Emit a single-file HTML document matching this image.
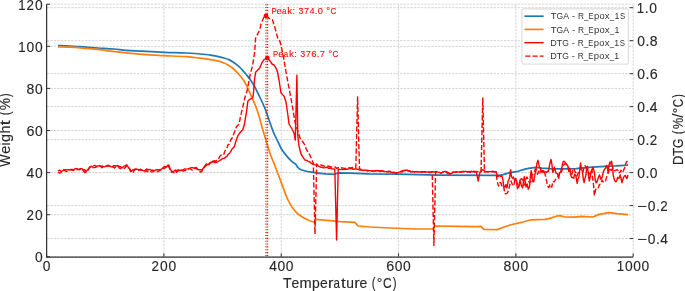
<!DOCTYPE html>
<html><head><meta charset="utf-8"><title>TGA / DTG</title>
<style>
html,body{margin:0;padding:0;background:#fff;}
body{width:685px;height:291px;overflow:hidden;}
svg{display:block;font-family:"Liberation Sans",sans-serif;}
text{filter:grayscale(0%);}
</style></head><body>
<svg width="685" height="291" viewBox="0 0 685 291">
<rect width="685" height="291" fill="#ffffff"/>
<line x1="46.60" y1="256.8" x2="46.60" y2="4.2" stroke="#d5d5d5" stroke-width="1.0" stroke-dasharray="2.4 1.062" stroke-dashoffset="-0.4"/>
<line x1="163.92" y1="256.8" x2="163.92" y2="4.2" stroke="#d5d5d5" stroke-width="1.0" stroke-dasharray="2.4 1.062" stroke-dashoffset="-0.4"/>
<line x1="281.24" y1="256.8" x2="281.24" y2="4.2" stroke="#d5d5d5" stroke-width="1.0" stroke-dasharray="2.4 1.062" stroke-dashoffset="-0.4"/>
<line x1="398.56" y1="256.8" x2="398.56" y2="4.2" stroke="#d5d5d5" stroke-width="1.0" stroke-dasharray="2.4 1.062" stroke-dashoffset="-0.4"/>
<line x1="515.88" y1="256.8" x2="515.88" y2="4.2" stroke="#d5d5d5" stroke-width="1.0" stroke-dasharray="2.4 1.062" stroke-dashoffset="-0.4"/>
<line x1="633.20" y1="256.8" x2="633.20" y2="4.2" stroke="#d5d5d5" stroke-width="1.0" stroke-dasharray="2.4 1.062" stroke-dashoffset="-0.4"/>
<line x1="46.6" y1="256.80" x2="633.2" y2="256.80" stroke="#d5d5d5" stroke-width="1.0" stroke-dasharray="2.4 1.062" stroke-dashoffset="-0.35"/>
<line x1="46.6" y1="214.70" x2="633.2" y2="214.70" stroke="#d5d5d5" stroke-width="1.0" stroke-dasharray="2.4 1.062" stroke-dashoffset="-0.35"/>
<line x1="46.6" y1="172.60" x2="633.2" y2="172.60" stroke="#d5d5d5" stroke-width="1.0" stroke-dasharray="2.4 1.062" stroke-dashoffset="-0.35"/>
<line x1="46.6" y1="130.50" x2="633.2" y2="130.50" stroke="#d5d5d5" stroke-width="1.0" stroke-dasharray="2.4 1.062" stroke-dashoffset="-0.35"/>
<line x1="46.6" y1="88.40" x2="633.2" y2="88.40" stroke="#d5d5d5" stroke-width="1.0" stroke-dasharray="2.4 1.062" stroke-dashoffset="-0.35"/>
<line x1="46.6" y1="46.30" x2="633.2" y2="46.30" stroke="#d5d5d5" stroke-width="1.0" stroke-dasharray="2.4 1.062" stroke-dashoffset="-0.35"/>
<line x1="46.6" y1="4.20" x2="633.2" y2="4.20" stroke="#d5d5d5" stroke-width="1.0" stroke-dasharray="2.4 1.062" stroke-dashoffset="-0.35"/>
<line x1="46.6" y1="238.56" x2="633.2" y2="238.56" stroke="#d5d5d5" stroke-width="1.0" stroke-dasharray="2.4 1.062" stroke-dashoffset="-0.35"/>
<line x1="46.6" y1="205.58" x2="633.2" y2="205.58" stroke="#d5d5d5" stroke-width="1.0" stroke-dasharray="2.4 1.062" stroke-dashoffset="-0.35"/>
<line x1="46.6" y1="172.60" x2="633.2" y2="172.60" stroke="#d5d5d5" stroke-width="1.0" stroke-dasharray="2.4 1.062" stroke-dashoffset="-0.35"/>
<line x1="46.6" y1="139.62" x2="633.2" y2="139.62" stroke="#d5d5d5" stroke-width="1.0" stroke-dasharray="2.4 1.062" stroke-dashoffset="-0.35"/>
<line x1="46.6" y1="106.64" x2="633.2" y2="106.64" stroke="#d5d5d5" stroke-width="1.0" stroke-dasharray="2.4 1.062" stroke-dashoffset="-0.35"/>
<line x1="46.6" y1="73.66" x2="633.2" y2="73.66" stroke="#d5d5d5" stroke-width="1.0" stroke-dasharray="2.4 1.062" stroke-dashoffset="-0.35"/>
<line x1="46.6" y1="40.68" x2="633.2" y2="40.68" stroke="#d5d5d5" stroke-width="1.0" stroke-dasharray="2.4 1.062" stroke-dashoffset="-0.35"/>
<line x1="46.6" y1="7.70" x2="633.2" y2="7.70" stroke="#d5d5d5" stroke-width="1.0" stroke-dasharray="2.4 1.062" stroke-dashoffset="-0.35"/>
<path d="M58.00,45.60 C60.00,45.67 65.33,45.73 70.00,46.00 C74.67,46.27 81.33,46.87 86.00,47.20 C90.67,47.53 93.33,47.70 98.00,48.00 C102.67,48.30 109.33,48.60 114.00,49.00 C118.67,49.40 121.33,50.03 126.00,50.40 C130.67,50.77 135.57,50.88 142.00,51.20 C148.43,51.52 157.18,52.00 164.60,52.30 C172.02,52.60 179.68,52.63 186.50,53.00 C193.32,53.37 201.25,54.10 205.50,54.50 C209.75,54.90 209.82,55.03 212.00,55.40 C214.18,55.77 216.60,56.27 218.60,56.70 C220.60,57.13 222.30,57.52 224.00,58.00 C225.70,58.48 227.30,58.93 228.80,59.60 C230.30,60.27 231.53,61.03 233.00,62.00 C234.47,62.97 236.35,64.40 237.60,65.40 C238.85,66.40 239.53,67.02 240.50,68.00 C241.47,68.98 242.35,70.10 243.40,71.30 C244.45,72.50 245.70,73.87 246.80,75.20 C247.90,76.53 248.80,77.58 250.00,79.30 C251.20,81.02 252.33,82.47 254.00,85.50 C255.67,88.53 258.17,93.67 260.00,97.50 C261.83,101.33 263.67,105.25 265.00,108.50 C266.33,111.75 266.92,113.92 268.00,117.00 C269.08,120.08 270.50,124.25 271.50,127.00 C272.50,129.75 273.10,131.42 274.00,133.50 C274.90,135.58 275.98,137.58 276.90,139.50 C277.82,141.42 278.65,143.28 279.50,145.00 C280.35,146.72 280.72,147.87 282.00,149.80 C283.28,151.73 285.48,154.60 287.20,156.60 C288.92,158.60 290.87,160.50 292.30,161.80 C293.73,163.10 294.93,163.53 295.80,164.40 C296.67,165.27 296.80,166.20 297.50,167.00 C298.20,167.80 298.85,168.58 300.00,169.20 C301.15,169.82 302.53,170.22 304.40,170.70 C306.27,171.18 308.60,171.67 311.20,172.10 C313.80,172.53 317.53,173.00 320.00,173.30 L326.00,173.90 L334.50,174.30 L337.00,173.30 L340.00,172.90 L350.00,173.10 L369.00,173.80 L398.00,174.10 L438.00,175.10 L498.40,175.30 L503.00,174.60 L510.00,172.60 L518.00,171.30 L525.00,169.10 L530.00,168.10 L536.00,167.30 L542.00,168.10 L550.00,168.60 L560.00,168.80 L569.00,168.90 L576.00,168.60 L586.00,167.60 L596.00,166.90 L606.00,166.30 L616.00,165.90 L628.00,165.10" fill="none" stroke-linejoin="round" stroke-linecap="butt" stroke="#1f77b4" stroke-width="1.7"/>
<path d="M58.00,47.00 C60.00,47.03 65.33,46.97 70.00,47.20 C74.67,47.43 81.33,48.03 86.00,48.40 C90.67,48.77 94.67,49.03 98.00,49.40 C101.33,49.77 102.00,50.10 106.00,50.60 C110.00,51.10 117.33,51.90 122.00,52.40 C126.67,52.90 129.33,53.18 134.00,53.60 C138.67,54.02 144.90,54.55 150.00,54.90 C155.10,55.25 158.52,55.40 164.60,55.70 C170.68,56.00 179.68,56.17 186.50,56.70 C193.32,57.23 201.25,58.38 205.50,58.90 C209.75,59.42 209.82,59.43 212.00,59.80 C214.18,60.17 216.60,60.57 218.60,61.10 C220.60,61.63 222.30,62.28 224.00,63.00 C225.70,63.72 227.38,64.57 228.80,65.40 C230.22,66.23 231.28,67.02 232.50,68.00 C233.72,68.98 234.85,70.02 236.10,71.30 C237.35,72.58 238.78,74.25 240.00,75.70 C241.22,77.15 242.40,78.53 243.40,80.00 C244.40,81.47 245.07,82.67 246.00,84.50 C246.93,86.33 247.83,88.42 249.00,91.00 C250.17,93.58 251.83,97.33 253.00,100.00 C254.17,102.67 255.00,104.33 256.00,107.00 C257.00,109.67 258.00,112.67 259.00,116.00 C260.00,119.33 261.00,123.50 262.00,127.00 C263.00,130.50 264.00,133.67 265.00,137.00 C266.00,140.33 267.00,143.83 268.00,147.00 C269.00,150.17 269.83,152.83 271.00,156.00 C272.17,159.17 273.83,163.00 275.00,166.00 C276.17,169.00 277.17,171.83 278.00,174.00 C278.83,176.17 279.00,176.33 280.00,179.00 C281.00,181.67 282.67,186.50 284.00,190.00 C285.33,193.50 286.67,197.17 288.00,200.00 C289.33,202.83 290.33,204.67 292.00,207.00 C293.67,209.33 295.67,212.00 298.00,214.00 C300.33,216.00 303.33,217.67 306.00,219.00 C308.67,220.33 312.33,221.93 314.00,222.00 L316.00,219.40 L330.00,220.60 L340.00,221.60 L355.00,222.40 L358.00,226.00 L370.00,227.00 L390.00,228.00 L417.00,229.00 L433.00,229.00 L435.00,226.00 L457.00,226.40 L477.00,226.60 L481.00,226.40 L484.00,229.40 L497.00,229.60 L507.00,226.00 L517.00,223.30 L523.00,222.00 L531.00,219.80 L545.00,219.40 L549.00,218.60 L557.00,216.00 L560.00,215.60 L565.00,217.00 L575.00,217.20 L581.00,216.40 L593.00,217.00 L599.00,214.40 L609.00,212.60 L617.00,213.60 L628.00,214.60" fill="none" stroke-linejoin="round" stroke-linecap="butt" stroke="#ff7f0e" stroke-width="1.7"/>
<polyline points="58.0,171.0 59.5,170.1 61.0,171.2 62.5,170.9 64.0,170.2 65.6,169.6 67.2,169.9 68.8,169.6 70.4,169.8 72.0,169.4 73.5,170.0 75.0,168.8 76.5,168.7 78.0,169.6 79.3,169.9 80.7,168.8 82.0,168.6 83.3,170.1 84.7,169.7 86.0,171.6 87.3,169.8 88.7,168.7 90.0,166.6 91.5,166.2 93.0,167.6 94.5,167.6 96.0,167.0 97.7,165.9 99.3,165.6 101.0,166.2 102.7,166.2 104.3,166.9 106.0,166.0 107.5,166.0 109.0,165.9 110.5,166.5 112.0,166.8 113.5,165.7 115.0,165.7 116.5,165.8 118.0,165.6 119.3,166.4 120.7,166.7 122.0,168.0 123.7,166.5 125.3,165.5 127.0,165.0 128.3,167.1 129.7,168.9 131.0,171.4 132.7,169.7 134.3,170.4 136.0,169.0 137.5,169.4 139.0,169.8 140.5,169.2 142.0,170.0 143.5,170.8 145.0,170.4 146.5,169.0 148.0,169.6 149.6,169.4 151.2,170.2 152.8,170.2 154.4,170.7 156.0,170.0 157.6,169.6 159.2,170.0 160.8,169.5 162.4,168.5 164.0,168.6 165.3,167.6 166.7,166.9 168.0,165.0 169.3,168.0 170.7,169.7 172.0,172.0 173.7,171.6 175.3,170.1 177.0,170.4 178.5,169.8 180.0,170.7 181.5,169.9 183.0,170.0 184.6,168.9 186.2,169.1 187.8,168.9 189.4,168.4 191.0,167.6 192.3,167.6 193.7,168.0 195.0,168.4 196.8,168.8 198.5,169.7 200.2,169.6 202.0,170.0 203.5,167.8 205.0,166.0 206.3,165.5 207.7,164.2 209.0,164.5 210.3,162.5 211.7,162.5 213.0,161.0 214.5,162.6 216.0,162.5 217.5,161.9 219.0,161.0 220.8,159.9 222.5,158.6 224.3,158.3 225.6,157.0 226.8,156.6 228.1,154.4 229.7,152.9 230.8,151.4 232.0,149.0 234.3,146.7 235.9,141.3 238.2,135.1 240.5,132.0 242.8,129.7 244.4,124.3 246.7,110.6 247.8,101.3 249.8,99.3 252.5,98.2 253.3,95.0 254.5,80.0 255.6,72.3 257.6,70.2 259.7,68.1 261.8,63.0 263.8,59.9 267.2,58.0 270.0,60.9 272.1,64.0 274.1,65.0 276.0,68.1 277.5,72.0 279.0,80.0 281.0,93.0 284.0,96.0 286.0,102.0 288.0,116.0 289.0,124.0 292.0,129.0 294.0,133.0 295.3,140.0 296.9,75.2 297.8,136.0 299.0,146.0 301.0,154.0 302.3,156.0 303.7,158.4 305.0,160.0 306.7,160.4 308.3,161.3 310.0,162.0 311.5,163.5 313.0,164.0 314.5,164.6 316.0,165.0 317.3,165.6 318.7,166.1 320.0,167.0 321.7,167.2 323.3,167.9 325.0,167.6 326.7,167.2 328.3,168.2 330.0,168.0 331.6,168.7 333.2,169.1 334.8,169.0 336.6,240.0 338.2,169.0 340.1,169.4 342.1,169.6 344.0,169.4 345.5,169.3 347.0,169.2 348.5,168.9 350.0,168.8 351.5,168.4 353.0,169.3 354.5,169.0 356.0,169.0 357.5,169.1 358.9,169.7 360.4,170.1 362.3,170.2 364.1,170.2 366.0,170.4 367.6,170.3 369.2,170.6 370.8,170.8 372.4,170.9 374.0,170.9 375.5,170.9 377.0,170.5 378.5,170.8 380.0,171.1 381.8,170.8 383.6,171.3 385.4,171.6 387.2,171.6 389.0,171.3 390.8,172.0 392.5,172.5 394.2,172.3 396.0,173.0 397.5,172.9 399.0,172.1 400.6,171.9 402.2,170.9 403.8,170.5 405.4,170.1 407.0,170.2 408.3,171.0 409.7,171.1 411.0,171.9 412.6,171.5 414.2,172.1 415.8,171.9 417.4,171.6 419.0,172.1 420.7,171.7 422.3,172.1 424.0,171.7 425.7,171.7 427.3,172.1 429.0,171.9 430.8,171.9 432.6,171.8 434.4,172.0 436.2,171.6 438.0,172.1 439.5,172.4 441.0,173.0 442.5,172.2 444.0,171.6 445.5,171.5 447.0,172.0 448.5,172.6 450.0,174.0 451.5,173.4 453.0,172.1 454.8,172.1 456.5,171.7 458.2,172.1 460.0,171.9 461.6,172.2 463.2,171.4 464.8,171.4 466.4,171.5 468.0,171.9 469.6,172.0 471.1,171.3 472.7,171.7 474.3,171.3 475.4,171.8 476.5,172.0 478.1,181.0 480.0,172.1 481.1,171.0 482.3,169.8 483.6,170.1 485.0,171.5 486.3,171.6 487.9,171.9 489.4,171.6 491.0,171.6 492.6,171.3 494.3,171.7 495.9,171.6 497.7,176.6 499.1,175.7 500.6,176.5 502.0,175.8 502.9,179.8 503.7,186.0 504.8,187.4 505.9,184.6 507.0,187.8 508.2,180.6 509.4,178.5 510.6,169.7 511.4,176.3 512.3,178.3 513.5,177.1 514.6,180.5 515.8,178.3 516.6,182.3 517.5,188.6 518.8,186.9 520.0,180.0 521.3,185.4 522.6,187.8 523.5,181.7 524.3,176.6 525.1,180.3 526.0,187.0 527.2,184.1 528.3,189.3 529.5,187.0 530.4,176.0 531.2,170.6 532.1,178.1 533.0,181.8 533.8,181.6 534.6,175.8 535.7,171.1 536.9,163.5 538.0,160.3 539.3,166.8 540.6,168.9 541.9,172.6 543.2,170.6 544.4,172.4 545.5,171.8 546.7,172.3 547.5,171.2 548.4,171.5 549.7,164.5 551.0,159.4 551.9,164.1 552.7,172.3 553.5,170.8 554.4,167.2 555.2,169.8 556.0,173.2 557.4,173.9 558.7,178.3 559.5,172.9 560.4,172.3 561.7,168.1 563.0,162.0 564.2,161.2 565.5,162.9 567.0,165.0 568.6,167.2 569.5,169.2 570.3,173.2 571.6,177.6 572.9,177.5 573.8,178.2 574.6,174.1 575.9,175.9 577.2,183.5 578.0,178.7 578.9,177.5 579.8,169.2 580.6,162.9 581.5,169.7 582.3,170.6 583.2,178.3 584.1,182.7 585.0,178.3 585.8,175.8 586.6,169.3 587.5,166.3 588.4,174.7 589.2,181.0 590.0,178.3 590.9,171.5 591.8,171.9 592.7,167.2 593.5,168.9 594.4,172.4 595.2,179.8 596.1,182.7 597.0,182.1 597.8,179.2 598.6,177.0 599.5,175.0 600.8,179.2 602.1,177.5 603.4,171.6 604.7,168.9 605.5,168.6 606.4,165.5 607.2,166.5 608.1,172.4 609.0,165.2 609.9,162.0 610.8,164.1 611.6,161.2 612.5,166.8 613.3,175.8 614.6,180.4 615.9,181.8 616.8,180.3 617.6,177.5 618.9,178.3 620.2,175.0 621.0,178.1 621.9,182.7 623.2,178.3 624.5,175.8 625.4,175.4 626.2,177.5 627.0,178.5 627.9,175.0" fill="none" stroke-linejoin="round" stroke-linecap="butt" stroke="#ff0000" stroke-width="1.4"/>
<polyline points="58.0,172.0 59.4,173.1 60.8,172.8 62.2,169.8 63.6,169.6 65.0,170.6 66.4,171.5 67.8,171.1 69.2,170.7 70.6,169.5 72.0,170.0 73.2,170.2 74.4,170.1 75.6,169.9 76.8,168.5 78.0,169.4 79.3,169.1 80.7,168.8 82.0,169.0 83.3,170.7 84.7,172.5 86.0,172.0 87.3,171.7 88.7,168.8 90.0,167.0 91.3,166.8 92.7,166.2 94.0,165.5 95.3,165.4 96.7,166.7 98.0,166.8 99.3,166.2 100.7,166.3 102.0,167.8 103.3,166.6 104.7,166.6 106.0,166.4 107.2,165.7 108.4,165.2 109.6,166.2 110.8,165.8 112.0,167.0 113.2,166.8 114.4,168.1 115.6,166.9 116.8,165.2 118.0,166.0 119.3,168.0 120.7,168.5 122.0,168.4 123.2,168.4 124.5,168.2 125.8,167.0 127.0,165.5 128.2,167.9 129.3,168.1 130.5,171.5 131.7,171.6 133.1,172.2 134.6,169.1 136.0,169.3 137.2,170.3 138.4,170.4 139.6,169.8 140.8,170.3 142.0,170.4 143.3,170.4 144.7,171.8 146.0,170.6 147.3,171.7 148.7,170.3 150.0,170.8 151.4,171.9 152.9,171.9 154.3,170.6 155.7,170.8 157.1,171.8 158.6,171.2 160.0,170.5 161.1,169.5 162.1,167.7 163.2,167.5 164.6,166.4 166.1,166.9 167.6,164.8 169.0,165.2 170.2,169.9 171.4,172.2 172.7,171.2 174.0,172.8 175.4,170.7 176.7,172.3 178.0,170.6 179.4,171.2 180.8,170.6 182.2,170.6 183.6,171.0 185.0,170.5 186.4,170.4 187.9,169.2 189.3,168.6 190.7,169.1 192.1,170.0 193.6,168.7 195.0,168.0 196.4,167.4 197.8,170.4 199.1,170.8 200.5,172.1 201.9,171.6 203.0,168.6 204.2,168.3 205.3,165.5 206.5,163.7 207.8,165.0 209.0,164.0 210.3,162.8 211.6,162.1 213.0,163.5 214.3,160.7 215.6,161.3 216.9,159.8 218.3,159.3 219.6,156.7 220.6,155.4 221.7,154.8 222.7,155.2 223.7,154.5 224.8,151.4 225.8,149.8 226.8,148.7 227.9,144.8 228.9,144.4 229.9,141.9 231.0,139.3 232.0,138.2 235.1,130.5 236.6,126.6 239.0,124.3 240.5,116.5 242.6,108.0 244.7,98.2 247.3,90.0 250.4,73.3 252.5,66.1 254.6,52.7 255.6,38.2 257.6,34.1 259.7,30.0 261.0,24.0 264.0,17.0 266.0,15.6 270.0,19.0 272.4,19.6 275.0,28.0 278.0,39.0 280.0,41.5 282.0,50.0 284.0,60.0 286.0,72.0 289.0,88.0 292.0,104.0 294.0,116.0 295.0,122.0 298.0,132.0 300.0,138.0 301.5,140.2 303.0,142.0 304.7,144.8 306.3,149.2 308.0,152.0 309.8,154.9 311.5,159.0 313.3,163.0 315.0,234.0 316.7,164.0 318.0,165.0 319.5,165.5 321.0,164.9 322.5,165.5 324.0,166.0 325.6,166.6 327.2,166.0 328.8,166.2 330.4,167.0 332.0,167.0 333.6,167.1 335.2,167.0 336.8,168.4 338.4,167.7 340.0,168.4 341.6,167.8 343.2,168.1 344.8,168.4 346.4,168.5 348.0,168.2 349.5,167.7 351.0,167.9 352.5,167.5 354.0,168.0 355.8,168.0 357.6,97.0 359.5,169.0 361.1,169.3 362.8,170.0 364.4,170.3 366.0,170.4 367.6,171.0 369.2,170.9 370.8,171.2 372.4,171.1 374.0,171.0 375.5,171.0 377.0,170.8 378.5,171.3 380.0,171.2 381.8,171.0 383.6,170.8 385.4,171.3 387.2,171.9 389.0,171.5 390.8,171.5 392.5,172.4 394.2,172.6 396.0,173.1 397.5,172.7 399.0,172.2 400.6,171.4 402.2,172.0 403.8,170.8 405.4,170.8 407.0,170.3 408.3,170.8 409.7,170.9 411.0,172.0 412.6,172.1 414.2,171.6 415.8,171.6 417.4,171.6 419.0,172.2 420.8,171.8 422.6,171.6 424.4,172.2 426.2,172.0 428.0,172.0 429.4,172.6 430.8,172.5 432.2,172.0 433.9,245.6 435.6,172.0 437.4,173.0 439.2,172.4 441.0,173.1 442.5,172.3 444.0,171.7 445.5,172.0 447.0,173.0 448.5,173.6 450.0,174.1 451.5,173.5 453.0,172.2 454.8,172.4 456.7,171.8 458.5,172.0 460.3,172.1 462.2,171.4 464.0,172.0 465.7,171.4 467.3,171.9 469.0,171.5 470.7,172.3 472.3,171.7 474.0,172.0 475.8,171.5 477.5,171.6 479.2,171.7 481.0,172.0 482.8,98.0 484.5,172.0 486.3,171.6 488.2,171.9 490.0,171.8 492.0,171.8 493.9,171.6 495.9,171.8 496.9,179.2 497.8,183.6 498.6,186.0 499.8,182.5 501.0,183.0 502.4,187.8 503.7,187.0 505.0,193.6 506.3,193.8 507.6,192.8 508.9,188.6 509.9,184.3 511.0,181.0 512.0,183.6 513.0,186.0 514.0,184.6 515.0,178.9 516.0,180.0 517.2,182.9 518.5,187.0 519.8,183.2 521.0,179.0 522.0,178.8 523.0,180.2 524.0,185.0 525.0,184.5 526.0,178.7 527.0,177.0 528.2,180.1 529.5,183.0 530.8,182.0 532.0,175.0 533.2,173.8 534.5,171.0 535.5,168.9 536.4,169.7 537.5,174.3 538.7,171.1 539.8,173.2 540.9,168.2 542.0,170.0 543.0,172.6 544.0,169.9 545.0,174.0 546.2,178.6 547.5,186.0 548.8,187.5 550.0,184.3 550.9,186.9 551.8,187.0 552.9,181.3 554.1,182.0 555.2,180.0 556.4,178.0 557.5,177.1 558.7,175.8 559.8,172.0 560.9,173.0 562.0,170.6 563.2,165.3 564.3,164.5 565.5,163.7 566.8,164.6 568.0,167.2 569.0,172.5 570.0,168.8 571.0,174.0 572.0,174.1 573.0,168.5 574.0,169.0 575.0,171.8 576.0,172.9 577.0,176.0 578.0,173.1 579.0,172.4 580.0,168.0 581.0,168.6 582.0,168.0 583.0,172.0 584.0,167.7 585.0,165.7 586.0,167.0 587.0,171.5 588.0,172.0 589.0,173.0 590.4,174.6 591.8,169.8 592.6,178.4 593.5,184.4 594.4,195.6 595.7,189.3 597.0,189.6 598.2,188.1 599.5,184.4 600.8,184.1 602.1,180.0 603.3,181.9 604.4,180.7 605.6,181.0 606.5,177.4 607.3,175.8 608.6,171.6 609.9,168.0 611.1,170.5 612.4,168.9 613.3,168.1 614.2,170.6 615.3,170.5 616.5,169.9 617.6,169.8 618.7,173.1 619.9,172.3 621.0,170.3 622.2,172.6 623.3,171.1 624.5,168.0 625.5,164.3 626.6,161.6 627.6,161.2" fill="none" stroke-linejoin="round" stroke-linecap="butt" stroke="#ff0000" stroke-width="1.4" stroke-dasharray="5.2 2.2"/>
<line x1="265.99" y1="256.8" x2="265.99" y2="4.2" stroke="#ff0000" stroke-width="1.2" stroke-dasharray="1.1 1.75" stroke-dashoffset="2.05"/>
<line x1="267.57" y1="256.8" x2="267.57" y2="4.2" stroke="#ff0000" stroke-width="1.2" stroke-dasharray="1.1 1.75" stroke-dashoffset="2.05"/>
<circle cx="266.0" cy="15.8" r="2.4" fill="#ff0000"/>
<circle cx="267.3" cy="58.1" r="2.4" fill="#ff0000"/>
<line x1="46.6" y1="4.2" x2="46.6" y2="257.6" stroke="#333333" stroke-width="1.25"/>
<line x1="46.0" y1="257.0" x2="633.2" y2="257.0" stroke="#333333" stroke-width="1.25"/>
<line x1="46.60" y1="256.8" x2="46.60" y2="253.3" stroke="#333333" stroke-width="1"/>
<line x1="163.92" y1="256.8" x2="163.92" y2="253.3" stroke="#333333" stroke-width="1"/>
<line x1="281.24" y1="256.8" x2="281.24" y2="253.3" stroke="#333333" stroke-width="1"/>
<line x1="398.56" y1="256.8" x2="398.56" y2="253.3" stroke="#333333" stroke-width="1"/>
<line x1="515.88" y1="256.8" x2="515.88" y2="253.3" stroke="#333333" stroke-width="1"/>
<line x1="633.20" y1="256.8" x2="633.20" y2="253.3" stroke="#333333" stroke-width="1"/>
<line x1="46.6" y1="256.80" x2="50.1" y2="256.80" stroke="#333333" stroke-width="1"/>
<line x1="46.6" y1="214.70" x2="50.1" y2="214.70" stroke="#333333" stroke-width="1"/>
<line x1="46.6" y1="172.60" x2="50.1" y2="172.60" stroke="#333333" stroke-width="1"/>
<line x1="46.6" y1="130.50" x2="50.1" y2="130.50" stroke="#333333" stroke-width="1"/>
<line x1="46.6" y1="88.40" x2="50.1" y2="88.40" stroke="#333333" stroke-width="1"/>
<line x1="46.6" y1="46.30" x2="50.1" y2="46.30" stroke="#333333" stroke-width="1"/>
<line x1="46.6" y1="4.20" x2="50.1" y2="4.20" stroke="#333333" stroke-width="1"/>
<line x1="633.2" y1="238.56" x2="629.7" y2="238.56" stroke="#333333" stroke-width="1"/>
<line x1="633.2" y1="205.58" x2="629.7" y2="205.58" stroke="#333333" stroke-width="1"/>
<line x1="633.2" y1="172.60" x2="629.7" y2="172.60" stroke="#333333" stroke-width="1"/>
<line x1="633.2" y1="139.62" x2="629.7" y2="139.62" stroke="#333333" stroke-width="1"/>
<line x1="633.2" y1="106.64" x2="629.7" y2="106.64" stroke="#333333" stroke-width="1"/>
<line x1="633.2" y1="73.66" x2="629.7" y2="73.66" stroke="#333333" stroke-width="1"/>
<line x1="633.2" y1="40.68" x2="629.7" y2="40.68" stroke="#333333" stroke-width="1"/>
<line x1="633.2" y1="7.70" x2="629.7" y2="7.70" stroke="#333333" stroke-width="1"/>
<g font-size="13.9" fill="#262626" stroke="#262626" stroke-width="0.12"><text transform="translate(38.79,262.20) scale(0.997,1)" x="-3.87">0</text></g>
<g font-size="13.9" fill="#262626" stroke="#262626" stroke-width="0.12"><text transform="translate(30.25,220.10) scale(0.961,1)" x="-3.87">2</text><text transform="translate(38.79,220.10) scale(0.997,1)" x="-3.87">0</text></g>
<g font-size="13.9" fill="#262626" stroke="#262626" stroke-width="0.12"><text transform="translate(30.38,178.00) scale(0.997,1)" x="-3.82">4</text><text transform="translate(38.79,178.00) scale(0.997,1)" x="-3.87">0</text></g>
<g font-size="13.9" fill="#262626" stroke="#262626" stroke-width="0.12"><text transform="translate(30.47,135.90) scale(1.032,1)" x="-3.91">6</text><text transform="translate(38.79,135.90) scale(0.997,1)" x="-3.87">0</text></g>
<g font-size="13.9" fill="#262626" stroke="#262626" stroke-width="0.12"><text transform="translate(30.42,93.80) scale(1.008,1)" x="-3.87">8</text><text transform="translate(38.79,93.80) scale(0.997,1)" x="-3.87">0</text></g>
<g font-size="13.9" fill="#262626" stroke="#262626" stroke-width="0.12"><text transform="translate(22.17,51.70) scale(0.952,1)" x="-4.06">1</text><text transform="translate(30.42,51.70) scale(0.997,1)" x="-3.87">0</text><text transform="translate(38.79,51.70) scale(0.997,1)" x="-3.87">0</text></g>
<g font-size="13.9" fill="#262626" stroke="#262626" stroke-width="0.12"><text transform="translate(22.17,9.60) scale(0.952,1)" x="-4.06">1</text><text transform="translate(30.25,9.60) scale(0.961,1)" x="-3.87">2</text><text transform="translate(38.79,9.60) scale(0.997,1)" x="-3.87">0</text></g>
<g font-size="13.9" fill="#262626" stroke="#262626" stroke-width="0.12"><text transform="translate(641.92,244.01) scale(1.219,1)" x="-4.06">−</text><text transform="translate(651.60,244.01) scale(0.997,1)" x="-3.87">0</text><text transform="translate(657.87,244.01) scale(1.024,1)" x="-1.93">.</text><text transform="translate(664.11,244.01) scale(0.997,1)" x="-3.82">4</text></g>
<g font-size="13.9" fill="#262626" stroke="#262626" stroke-width="0.12"><text transform="translate(641.92,211.03) scale(1.219,1)" x="-4.06">−</text><text transform="translate(651.60,211.03) scale(0.997,1)" x="-3.87">0</text><text transform="translate(657.87,211.03) scale(1.024,1)" x="-1.93">.</text><text transform="translate(663.98,211.03) scale(0.961,1)" x="-3.87">2</text></g>
<g font-size="13.9" fill="#262626" stroke="#262626" stroke-width="0.12"><text transform="translate(641.11,178.05) scale(0.997,1)" x="-3.87">0</text><text transform="translate(647.38,178.05) scale(1.024,1)" x="-1.93">.</text><text transform="translate(653.66,178.05) scale(0.997,1)" x="-3.87">0</text></g>
<g font-size="13.9" fill="#262626" stroke="#262626" stroke-width="0.12"><text transform="translate(641.11,145.07) scale(0.997,1)" x="-3.87">0</text><text transform="translate(647.38,145.07) scale(1.024,1)" x="-1.93">.</text><text transform="translate(653.49,145.07) scale(0.961,1)" x="-3.87">2</text></g>
<g font-size="13.9" fill="#262626" stroke="#262626" stroke-width="0.12"><text transform="translate(641.11,112.09) scale(0.997,1)" x="-3.87">0</text><text transform="translate(647.38,112.09) scale(1.024,1)" x="-1.93">.</text><text transform="translate(653.61,112.09) scale(0.997,1)" x="-3.82">4</text></g>
<g font-size="13.9" fill="#262626" stroke="#262626" stroke-width="0.12"><text transform="translate(641.11,79.11) scale(0.997,1)" x="-3.87">0</text><text transform="translate(647.38,79.11) scale(1.024,1)" x="-1.93">.</text><text transform="translate(653.71,79.11) scale(1.032,1)" x="-3.91">6</text></g>
<g font-size="13.9" fill="#262626" stroke="#262626" stroke-width="0.12"><text transform="translate(641.11,46.13) scale(0.997,1)" x="-3.87">0</text><text transform="translate(647.38,46.13) scale(1.024,1)" x="-1.93">.</text><text transform="translate(653.66,46.13) scale(1.008,1)" x="-3.87">8</text></g>
<g font-size="13.9" fill="#262626" stroke="#262626" stroke-width="0.12"><text transform="translate(640.65,13.15) scale(0.952,1)" x="-4.06">1</text><text transform="translate(646.81,13.15) scale(1.024,1)" x="-1.93">.</text><text transform="translate(653.08,13.15) scale(0.997,1)" x="-3.87">0</text></g>
<g font-size="13.9" fill="#262626" stroke="#262626" stroke-width="0.12"><text transform="translate(46.60,270.60) scale(0.997,1)" x="-3.87">0</text></g>
<g font-size="13.9" fill="#262626" stroke="#262626" stroke-width="0.12"><text transform="translate(155.33,270.60) scale(0.961,1)" x="-3.87">2</text><text transform="translate(163.87,270.60) scale(0.997,1)" x="-3.87">0</text><text transform="translate(172.24,270.60) scale(0.997,1)" x="-3.87">0</text></g>
<g font-size="13.9" fill="#262626" stroke="#262626" stroke-width="0.12"><text transform="translate(272.94,270.60) scale(0.997,1)" x="-3.82">4</text><text transform="translate(281.35,270.60) scale(0.997,1)" x="-3.87">0</text><text transform="translate(289.72,270.60) scale(0.997,1)" x="-3.87">0</text></g>
<g font-size="13.9" fill="#262626" stroke="#262626" stroke-width="0.12"><text transform="translate(390.22,270.60) scale(1.032,1)" x="-3.91">6</text><text transform="translate(398.53,270.60) scale(0.997,1)" x="-3.87">0</text><text transform="translate(406.90,270.60) scale(0.997,1)" x="-3.87">0</text></g>
<g font-size="13.9" fill="#262626" stroke="#262626" stroke-width="0.12"><text transform="translate(507.50,270.60) scale(1.008,1)" x="-3.87">8</text><text transform="translate(515.87,270.60) scale(0.997,1)" x="-3.87">0</text><text transform="translate(524.23,270.60) scale(0.997,1)" x="-3.87">0</text></g>
<g font-size="13.9" fill="#262626" stroke="#262626" stroke-width="0.12"><text transform="translate(620.48,270.60) scale(0.952,1)" x="-4.06">1</text><text transform="translate(628.73,270.60) scale(0.997,1)" x="-3.87">0</text><text transform="translate(637.09,270.60) scale(0.997,1)" x="-3.87">0</text><text transform="translate(645.46,270.60) scale(0.997,1)" x="-3.87">0</text></g>
<g font-size="14.2" fill="#262626" stroke="#262626" stroke-width="0.12"><text transform="translate(287.37,287.90) scale(0.988,1)" x="-4.33">T</text><text transform="translate(295.26,287.90) scale(0.978,1)" x="-3.93">e</text><text transform="translate(305.51,287.90) scale(1.032,1)" x="-5.92">m</text><text transform="translate(316.05,287.90) scale(0.985,1)" x="-4.11">p</text><text transform="translate(323.87,287.90) scale(0.978,1)" x="-3.93">e</text><text transform="translate(331.04,287.90) scale(1.160,1)" x="-2.72">r</text><text transform="translate(336.84,287.90) scale(0.814,1)" x="-4.25">a</text><text transform="translate(343.52,287.90) scale(1.210,1)" x="-2.03">t</text><text transform="translate(350.06,287.90) scale(0.976,1)" x="-3.94">u</text><text transform="translate(357.40,287.90) scale(1.160,1)" x="-2.72">r</text><text transform="translate(363.43,287.90) scale(0.978,1)" x="-3.93">e</text><text transform="translate(374.01,287.90) scale(0.800,1)" x="-2.76">(</text><text transform="translate(379.69,287.90) scale(1.000,1)" x="-2.84">°</text><text transform="translate(387.41,287.90) scale(0.841,1)" x="-5.22">C</text><text transform="translate(394.36,287.90) scale(0.800,1)" x="-1.97">)</text></g>
<g font-size="14.2" fill="#262626" stroke="#262626" stroke-width="0.12"><text transform="translate(9.90,160.56) rotate(-90) scale(0.924,1)" x="-6.71">W</text><text transform="translate(9.90,149.88) rotate(-90) scale(1.012,1)" x="-3.93">e</text><text transform="translate(9.90,143.95) rotate(-90) scale(0.958,1)" x="-1.57">i</text><text transform="translate(9.90,138.12) rotate(-90) scale(1.018,1)" x="-3.79">g</text><text transform="translate(9.90,129.40) rotate(-90) scale(1.017,1)" x="-3.98">h</text><text transform="translate(9.90,122.60) rotate(-90) scale(1.252,1)" x="-2.03">t</text><text transform="translate(9.90,113.15) rotate(-90) scale(0.800,1)" x="-2.76">(</text><text transform="translate(9.90,104.27) rotate(-90) scale(0.962,1)" x="-6.31">%</text><text transform="translate(9.90,95.39) rotate(-90) scale(0.800,1)" x="-1.97">)</text></g>
<g font-size="14.2" fill="#262626" stroke="#262626" stroke-width="0.12"><text transform="translate(683.10,160.18) rotate(-90) scale(0.908,1)" x="-5.37">D</text><text transform="translate(683.10,151.83) rotate(-90) scale(0.957,1)" x="-4.33">T</text><text transform="translate(683.10,143.36) rotate(-90) scale(0.856,1)" x="-5.35">G</text><text transform="translate(683.10,131.94) rotate(-90) scale(0.800,1)" x="-2.76">(</text><text transform="translate(683.10,123.63) rotate(-90) scale(0.901,1)" x="-6.31">%</text><text transform="translate(683.10,115.61) rotate(-90) scale(1.064,1)" x="-1.97">/</text><text transform="translate(683.10,110.40) rotate(-90) scale(0.969,1)" x="-2.84">°</text><text transform="translate(683.10,102.93) rotate(-90) scale(0.814,1)" x="-5.22">C</text><text transform="translate(683.10,96.20) rotate(-90) scale(0.800,1)" x="-1.97">)</text></g>
<g font-size="9.2" fill="#ff0000" stroke="#ff0000" stroke-width="0.08"><text transform="translate(274.07,14.40) scale(0.844,1)" x="-3.20">P</text><text transform="translate(279.14,14.40) scale(1.031,1)" x="-2.55">e</text><text transform="translate(284.39,14.40) scale(0.858,1)" x="-2.75">a</text><text transform="translate(290.14,14.40) scale(1.067,1)" x="-2.62">k</text><text transform="translate(293.77,14.40) scale(1.032,1)" x="-1.28">:</text><text transform="translate(300.82,14.40) scale(0.966,1)" x="-2.53">3</text><text transform="translate(306.40,14.40) scale(0.984,1)" x="-2.56">7</text><text transform="translate(311.97,14.40) scale(1.006,1)" x="-2.53">4</text><text transform="translate(316.18,14.40) scale(1.032,1)" x="-1.28">.</text><text transform="translate(320.37,14.40) scale(1.006,1)" x="-2.56">0</text><text transform="translate(328.15,14.40) scale(1.054,1)" x="-1.84">°</text><text transform="translate(333.42,14.40) scale(0.886,1)" x="-3.38">C</text></g>
<g font-size="9.2" fill="#ff0000" stroke="#ff0000" stroke-width="0.08"><text transform="translate(275.68,57.40) scale(0.849,1)" x="-3.20">P</text><text transform="translate(280.78,57.40) scale(1.037,1)" x="-2.55">e</text><text transform="translate(286.06,57.40) scale(0.863,1)" x="-2.75">a</text><text transform="translate(291.85,57.40) scale(1.073,1)" x="-2.62">k</text><text transform="translate(295.51,57.40) scale(1.039,1)" x="-1.28">:</text><text transform="translate(302.60,57.40) scale(0.972,1)" x="-2.53">3</text><text transform="translate(308.22,57.40) scale(0.990,1)" x="-2.56">7</text><text transform="translate(313.88,57.40) scale(1.047,1)" x="-2.59">6</text><text transform="translate(318.06,57.40) scale(1.039,1)" x="-1.28">.</text><text transform="translate(322.26,57.40) scale(0.990,1)" x="-2.56">7</text><text transform="translate(330.10,57.40) scale(1.060,1)" x="-1.84">°</text><text transform="translate(335.40,57.40) scale(0.891,1)" x="-3.38">C</text></g>
<rect x="521.9" y="8.9" width="106.5" height="55.2" rx="1.4" fill="#ffffff" fill-opacity="0.8" stroke="#d4d4d4" stroke-width="0.9"/>
<line x1="524.4" y1="16.2" x2="543.6" y2="16.2" stroke="#1f77b4" stroke-width="1.7"/>
<g font-size="9.1" fill="#333333" stroke="#333333" stroke-width="0"><text transform="translate(553.69,19.30) scale(1.046,1)" x="-2.78">T</text><text transform="translate(559.63,19.30) scale(0.936,1)" x="-3.43">G</text><text transform="translate(566.11,19.30) scale(0.966,1)" x="-3.03">A</text><text transform="translate(573.45,19.30) scale(1.034,1)" x="-1.52">-</text><text transform="translate(581.13,19.30) scale(0.918,1)" x="-3.45">R</text><text transform="translate(586.04,19.30) scale(0.856,1)" x="-2.51">_</text><text transform="translate(591.13,19.30) scale(0.831,1)" x="-3.21">E</text><text transform="translate(596.67,19.30) scale(1.044,1)" x="-2.63">p</text><text transform="translate(601.96,19.30) scale(1.020,1)" x="-2.53">o</text><text transform="translate(607.19,19.30) scale(1.064,1)" x="-2.28">x</text><text transform="translate(611.97,19.30) scale(0.856,1)" x="-2.51">_</text><text transform="translate(617.01,19.30) scale(0.966,1)" x="-2.65">1</text><text transform="translate(622.53,19.30) scale(0.855,1)" x="-3.03">S</text></g>
<line x1="524.4" y1="29.4" x2="543.6" y2="29.4" stroke="#ff7f0e" stroke-width="1.7"/>
<g font-size="9.1" fill="#333333" stroke="#333333" stroke-width="0"><text transform="translate(553.69,32.50) scale(1.046,1)" x="-2.78">T</text><text transform="translate(559.63,32.50) scale(0.936,1)" x="-3.43">G</text><text transform="translate(566.11,32.50) scale(0.966,1)" x="-3.03">A</text><text transform="translate(573.45,32.50) scale(1.034,1)" x="-1.52">-</text><text transform="translate(581.13,32.50) scale(0.918,1)" x="-3.45">R</text><text transform="translate(586.04,32.50) scale(0.856,1)" x="-2.51">_</text><text transform="translate(591.13,32.50) scale(0.831,1)" x="-3.21">E</text><text transform="translate(596.67,32.50) scale(1.044,1)" x="-2.63">p</text><text transform="translate(601.96,32.50) scale(1.020,1)" x="-2.53">o</text><text transform="translate(607.19,32.50) scale(1.064,1)" x="-2.28">x</text><text transform="translate(611.97,32.50) scale(0.856,1)" x="-2.51">_</text><text transform="translate(617.01,32.50) scale(0.966,1)" x="-2.65">1</text></g>
<line x1="524.4" y1="42.7" x2="543.6" y2="42.7" stroke="#ff0000" stroke-width="1.4"/>
<g font-size="9.1" fill="#333333" stroke="#333333" stroke-width="0"><text transform="translate(553.67,45.80) scale(0.993,1)" x="-3.44">D</text><text transform="translate(559.53,45.80) scale(1.046,1)" x="-2.78">T</text><text transform="translate(565.47,45.80) scale(0.936,1)" x="-3.43">G</text><text transform="translate(573.31,45.80) scale(1.034,1)" x="-1.52">-</text><text transform="translate(581.00,45.80) scale(0.918,1)" x="-3.45">R</text><text transform="translate(585.91,45.80) scale(0.856,1)" x="-2.51">_</text><text transform="translate(591.00,45.80) scale(0.831,1)" x="-3.21">E</text><text transform="translate(596.54,45.80) scale(1.044,1)" x="-2.63">p</text><text transform="translate(601.82,45.80) scale(1.020,1)" x="-2.53">o</text><text transform="translate(607.06,45.80) scale(1.064,1)" x="-2.28">x</text><text transform="translate(611.84,45.80) scale(0.856,1)" x="-2.51">_</text><text transform="translate(616.88,45.80) scale(0.966,1)" x="-2.65">1</text><text transform="translate(622.39,45.80) scale(0.855,1)" x="-3.03">S</text></g>
<line x1="524.4" y1="56.1" x2="543.6" y2="56.1" stroke="#ff0000" stroke-width="1.4" stroke-dasharray="5.2 2.1" stroke-dashoffset="6.5"/>
<g font-size="9.1" fill="#333333" stroke="#333333" stroke-width="0"><text transform="translate(553.67,59.20) scale(0.993,1)" x="-3.44">D</text><text transform="translate(559.53,59.20) scale(1.046,1)" x="-2.78">T</text><text transform="translate(565.47,59.20) scale(0.936,1)" x="-3.43">G</text><text transform="translate(573.31,59.20) scale(1.034,1)" x="-1.52">-</text><text transform="translate(581.00,59.20) scale(0.918,1)" x="-3.45">R</text><text transform="translate(585.91,59.20) scale(0.856,1)" x="-2.51">_</text><text transform="translate(591.00,59.20) scale(0.831,1)" x="-3.21">E</text><text transform="translate(596.54,59.20) scale(1.044,1)" x="-2.63">p</text><text transform="translate(601.82,59.20) scale(1.020,1)" x="-2.53">o</text><text transform="translate(607.06,59.20) scale(1.064,1)" x="-2.28">x</text><text transform="translate(611.84,59.20) scale(0.856,1)" x="-2.51">_</text><text transform="translate(616.88,59.20) scale(0.966,1)" x="-2.65">1</text></g>
</svg>
</body></html>
